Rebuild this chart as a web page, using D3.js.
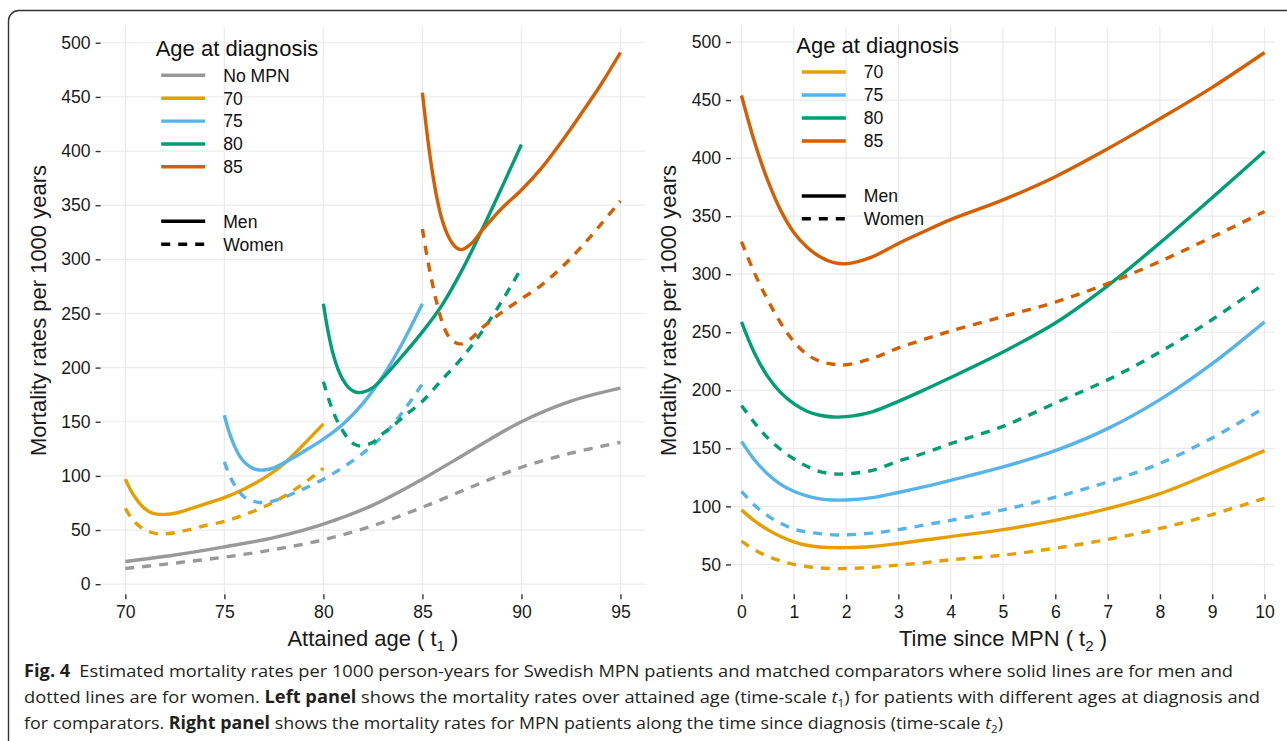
<!DOCTYPE html>
<html>
<head>
<meta charset="utf-8">
<script src="https://cdnjs.cloudflare.com/ajax/libs/d3/7.8.5/d3.min.js"></script>
<style>
  body { margin: 0; background: #fff; }
  svg  { display: block; font-family: "Liberation Sans", Arial, Helvetica, sans-serif; }
</style>
</head>
<body>
<div id="chart"></div>
<script>
"use strict";

/* ── Data: years since MPN diagnosis at which the rates were read ── */
const timeSinceMPN = [0, 0.25, 0.5, 0.75, 1, 1.25, 1.5, 1.75, 2, 2.5, 3, 3.5, 4, 5, 6, 7, 8, 9, 10];

/* mortality rates per 1000 person-years, one array per age at diagnosis and sex */
const men70   = [97, 87.5, 80, 74, 69.5, 66.5, 65, 64.5, 64.5, 65.5, 68, 71, 74, 80, 88, 98, 111, 129, 148];
const women70 = [70, 62.5, 57, 53, 50, 48.2, 47, 46.5, 46.5, 47.5, 49.5, 51.5, 54, 58, 64, 71.5, 81, 93, 107];
const men75   = [156, 140, 128, 119, 113, 109, 106.5, 105.5, 105.5, 107.5, 112, 117, 122.5, 134, 148, 167, 192, 223, 259];
const women75 = [113, 101, 92, 85.5, 80.5, 78, 76.5, 75.5, 75.5, 77, 80, 84, 88, 97, 108, 121, 137, 159, 185];
const men80   = [259, 232, 212, 198, 188.5, 182, 178.5, 177, 177.3, 181.5, 190.5, 200.5, 211, 233, 258, 290, 327, 366, 406];
const women80 = [187, 172, 159, 149, 141, 134.5, 130, 128, 128, 131, 139, 146, 154, 169, 189, 209, 233, 261, 292];
const men85   = [454, 414, 381, 355, 336, 323.5, 315, 310.2, 309, 315, 326.5, 337, 347, 364, 384, 408, 434, 461, 491];
const women85 = [328, 301, 278, 258, 242, 231, 225, 222.5, 222, 227.5, 236.5, 244, 251, 263.5, 276, 292, 311, 332, 354];

/* matched comparators without MPN, over attained age */
const attainedAges = [70, 72.5, 75, 77.5, 80, 82.5, 85, 87.5, 90, 92.5, 95];
const noMpnMen     = [21, 27, 34.5, 43, 55.5, 73, 97, 124, 150, 169, 181];
const noMpnWomen   = [14.5, 19.5, 25, 32, 41, 54, 71, 90, 108, 121, 131];

const diagnosisAges = [70, 75, 80, 85];
const ageColours    = ["#E69F00", "#56B4E9", "#009E73", "#D55E00"];
const noMpnColour   = "#999999";

/* tick labels */
const leftXTicks  = [70, 75, 80, 85, 90, 95];
const leftYTicks  = [0, 50, 100, 150, 200, 250, 300, 350, 400, 450, 500];
const rightXTicks = [0, 1, 2, 3, 4, 5, 6, 7, 8, 9, 10];
const rightYTicks = [50, 100, 150, 200, 250, 300, 350, 400, 450, 500];

/* ── Build series ── */
const menByAge   = [men70, men75, men80, men85];
const womenByAge = [women70, women75, women80, women85];

function mpnSeries(onAttainedAge) {
  const out = [];
  diagnosisAges.forEach((age, i) => {
    [["Men", menByAge[i]], ["Women", womenByAge[i]]].forEach(([sex, vals]) => {
      out.push({
        colour: ageColours[i], sex,
        points: timeSinceMPN.map((t, j) => [onAttainedAge ? age + t : t, vals[j]])
      });
    });
  });
  return out;
}

const leftSeries = [
  { colour: noMpnColour, sex: "Men",   points: attainedAges.map((a, j) => [a, noMpnMen[j]]) },
  { colour: noMpnColour, sex: "Women", points: attainedAges.map((a, j) => [a, noMpnWomen[j]]) },
  ...mpnSeries(true)
];
const rightSeries = mpnSeries(false);

/* ── Canvas ── */
const W = 1287, H = 741;
const plotTop = 26.7, plotBottom = 594.3;
const LINE_W = 3.4;
const DASH = "9,8";

const svg = d3.select("#chart").append("svg")
  .attr("width", W).attr("height", H);

svg.append("rect").attr("width", W).attr("height", H).attr("fill", "#fff");

/* rounded frame of the figure */
svg.append("path")
  .attr("d", `M8.5,${H} V21 A10.5,10.5 0 0 1 19,10.5 H${W}`)
  .attr("fill", "none").attr("stroke", "#333").attr("stroke-width", 1.4);

function padded(ext, frac) {
  const span = ext[1] - ext[0];
  return [ext[0] - span * frac, ext[1] + span * frac];
}

/* ── One panel ── */
function drawPanel(cfg) {
  const x = d3.scaleLinear()
    .domain(padded(cfg.xExtent, cfg.xPad))
    .range([cfg.left, cfg.right]);

  const allY = cfg.series.flatMap(s => s.points.map(p => p[1]));
  const y = d3.scaleLinear()
    .domain(padded(d3.extent(allY), 0.05))
    .range([plotBottom, plotTop]);

  const g = svg.append("g");

  /* gridlines */
  g.selectAll(".vgrid").data(cfg.xTicks).join("line")
    .attr("x1", d => x(d)).attr("x2", d => x(d))
    .attr("y1", plotTop).attr("y2", plotBottom)
    .attr("stroke", "#ebebeb").attr("stroke-width", 1.2);

  g.selectAll(".hgrid").data(cfg.yTicks).join("line")
    .attr("x1", cfg.left).attr("x2", cfg.right)
    .attr("y1", d => y(d)).attr("y2", d => y(d))
    .attr("stroke", "#ebebeb").attr("stroke-width", 1.2);

  /* axes */
  const styleAxis = a => {
    a.attr("font-family", null).attr("font-size", null);
    a.select(".domain").remove();
    a.selectAll(".tick line").attr("stroke", "#333").attr("stroke-width", 1.4);
    a.selectAll(".tick text").attr("fill", "#1a1a1a").attr("font-size", "17.6px");
  };

  g.append("g")
    .attr("transform", `translate(${cfg.left},0)`)
    .call(d3.axisLeft(y).tickValues(cfg.yTicks).tickSize(5).tickPadding(5))
    .call(styleAxis);

  g.append("g")
    .attr("transform", `translate(0,${plotBottom})`)
    .call(d3.axisBottom(x).tickValues(cfg.xTicks).tickSize(5).tickPadding(6))
    .call(styleAxis);

  /* axis titles */
  const xt = g.append("text")
    .attr("x", (cfg.left + cfg.right) / 2).attr("y", 645.5)
    .attr("text-anchor", "middle").attr("font-size", "22px").attr("fill", "#1a1a1a");
  xt.append("tspan").text(cfg.xTitle + " ( t");
  xt.append("tspan").attr("font-size", "15px").attr("dy", 5).text(cfg.xSub);
  xt.append("tspan").attr("dy", -5).text(" )");

  g.append("text")
    .attr("transform", `translate(${cfg.yTitleX},${(plotTop + plotBottom) / 2}) rotate(-90)`)
    .attr("text-anchor", "middle").attr("font-size", "22px").attr("fill", "#1a1a1a")
    .text("Mortality rates per 1000 years");

  /* lines */
  const line = d3.line()
    .x(d => x(d[0])).y(d => y(d[1]))
    .curve(d3.curveCatmullRom.alpha(0.5));

  g.selectAll(".rate").data(cfg.series).join("path")
    .attr("d", d => line(d.points))
    .attr("fill", "none")
    .attr("stroke", d => d.colour)
    .attr("stroke-width", LINE_W)
    .attr("stroke-linejoin", "round")
    .attr("stroke-dasharray", d => d.sex === "Women" ? DASH : null);

  /* legend */
  const lg = svg.append("g");
  lg.append("text")
    .attr("x", cfg.legend.x).attr("y", cfg.legend.titleY)
    .attr("font-size", "22px").attr("fill", "#111")
    .text("Age at diagnosis");

  const keyX0 = cfg.legend.x + 5.5, keyX1 = cfg.legend.x + 49.5, labX = cfg.legend.x + 67.5;

  const items = cfg.legend.colourItems.map((it, i) => ({ ...it, yy: cfg.legend.rowY[i], dash: null }))
    .concat([
      { label: "Men",   colour: "#000", yy: cfg.legend.sexY[0], dash: null },
      { label: "Women", colour: "#000", yy: cfg.legend.sexY[1], dash: DASH }
    ]);

  items.forEach(it => {
    lg.append("line")
      .attr("x1", keyX0).attr("x2", keyX1)
      .attr("y1", it.yy).attr("y2", it.yy)
      .attr("stroke", it.colour).attr("stroke-width", LINE_W)
      .attr("stroke-dasharray", it.dash);
    lg.append("text")
      .attr("x", labX).attr("y", it.yy + 6.3)
      .attr("font-size", "17.6px").attr("fill", "#111")
      .text(it.label);
  });
}

const ageItems = diagnosisAges.map((a, i) => ({ label: String(a), colour: ageColours[i] }));

drawPanel({
  left: 100.6, right: 645.2,
  xExtent: [70, 95], xPad: 0.05,
  xTicks: leftXTicks, yTicks: leftYTicks,
  xTitle: "Attained age", xSub: "1", yTitleX: 46,
  series: leftSeries,
  legend: {
    x: 155.7, titleY: 55.8,
    colourItems: [{ label: "No MPN", colour: noMpnColour }, ...ageItems],
    rowY: [75.3, 98.2, 121.1, 144, 166.8],
    sexY: [221.3, 244.3]
  }
});

drawPanel({
  left: 731, right: 1275,
  xExtent: [0, 10], xPad: 0.02,
  xTicks: rightXTicks, yTicks: rightYTicks,
  xTitle: "Time since MPN", xSub: "2", yTitleX: 676,
  series: rightSeries,
  legend: {
    x: 796.3, titleY: 53,
    colourItems: ageItems,
    rowY: [72, 95, 118, 141],
    sexY: [196, 218.7]
  }
});

/* ── Caption ── */
const cap = svg.append("g")
  .attr("font-family", "'Open Sans', 'Noto Sans', sans-serif")
  .attr("font-size", "17px").attr("fill", "#231f20");

const capLines = [
  { y: 677, len: 1209, parts: [
    { t: "Fig. 4", w: "bold" },
    { t: "\u2002Estimated mortality rates per 1000 person-years for Swedish MPN patients and matched comparators where solid lines are for men and" }
  ]},
  { y: 703, len: 1236, parts: [
    { t: "dotted lines are for women. " },
    { t: "Left panel", w: "bold" },
    { t: " shows the mortality rates over attained age (time-scale " },
    { t: "t", s: "italic" },
    { t: "1", sub: true },
    { t: ") for patients with different ages at diagnosis and" }
  ]},
  { y: 729, len: 979, parts: [
    { t: "for comparators. " },
    { t: "Right panel", w: "bold" },
    { t: " shows the mortality rates for MPN patients along the time since diagnosis (time-scale " },
    { t: "t", s: "italic" },
    { t: "2", sub: true },
    { t: ")" }
  ]}
];

capLines.forEach(ln => {
  const txt = cap.append("text")
    .attr("x", 24).attr("y", ln.y)
    .attr("textLength", ln.len).attr("lengthAdjust", "spacingAndGlyphs");
  let lowered = false;
  ln.parts.forEach(p => {
    const ts = txt.append("tspan").text(p.t);
    if (p.w) ts.attr("font-weight", p.w);
    if (p.s) ts.attr("font-style", p.s);
    if (p.sub) { ts.attr("font-size", "11px").attr("dy", 4); lowered = true; }
    else if (lowered) { ts.attr("dy", -4); lowered = false; }
  });
});
</script>
</body>
</html>
